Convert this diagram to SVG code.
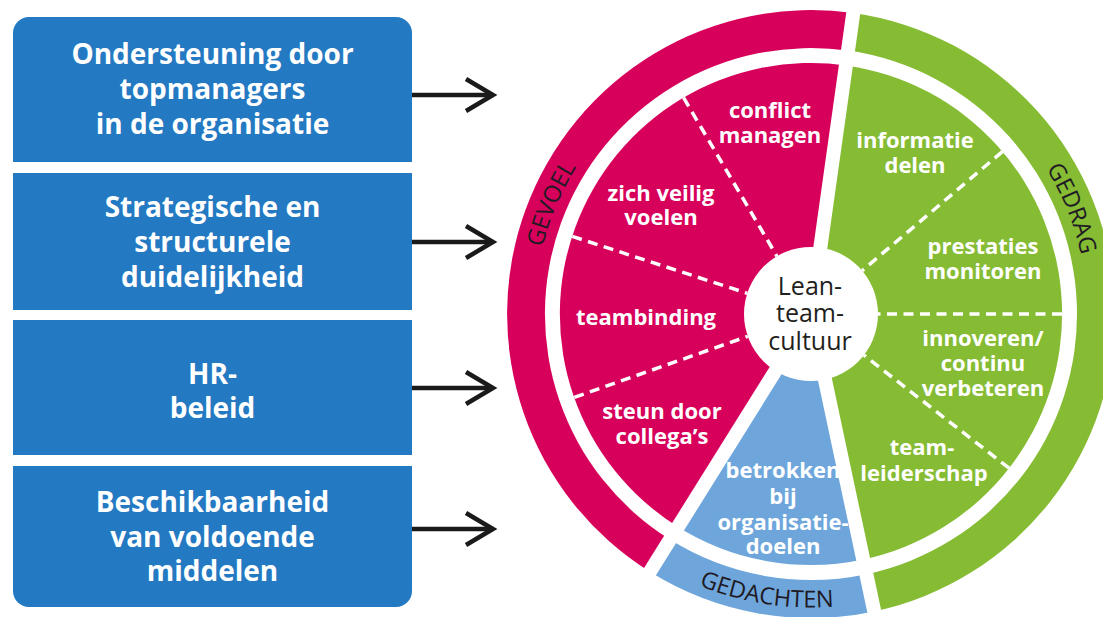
<svg xmlns="http://www.w3.org/2000/svg" width="1103" height="617" viewBox="0 0 1103 617">
  <style>
    .box { fill: #2379c2; }
    .boxtxt { font-family: "Open Sans", "Liberation Sans", sans-serif; font-weight: 700; font-size: 28px; fill: #ffffff; text-anchor: middle; }
    .lbl { font-family: "Open Sans", "Liberation Sans", sans-serif; font-weight: 700; font-size: 22px; fill: #ffffff; text-anchor: middle; }
    .ring { font-family: "Open Sans", "Liberation Sans", sans-serif; font-weight: 400; font-size: 23.5px; fill: #1f1a24; }
    .core { font-family: "Open Sans", "Liberation Sans", sans-serif; font-weight: 400; font-size: 25px; fill: #231f20; text-anchor: middle; }
    .pink { fill: #d7005b; }
    .green { fill: #86bc33; }
    .blue { fill: #6ea6dc; }
    .sep { stroke: #ffffff; stroke-width: 14; fill: none; }
    .dash { stroke: #ffffff; stroke-width: 3.5; stroke-dasharray: 10 6.5; fill: none; }
    .conn { stroke: #1a1a1a; stroke-width: 4.5; fill: none; }
  </style>
  <defs>
    <marker id="chev" markerUnits="userSpaceOnUse" markerWidth="40" markerHeight="40" refX="0" refY="0" orient="auto" overflow="visible">
      <path d="M -27 -16 L 0 0 L -27 16" fill="none" stroke="#1a1a1a" stroke-width="4.5" stroke-linejoin="miter"/>
    </marker>
    <path id="pGevoel" d="M 555.1,417.4 A 274 274 0 0 1 707.6,58.1"/>
    <path id="pGedrag" d="M 918.8,59.9 A 275 275 0 0 1 1065.1,421.8"/>
    <path id="pGedachten" d="M 573.2,486.8 A 295 295 0 0 0 983.8,551.8"/>
  </defs>

  <rect width="1103" height="617" fill="#ffffff"/>

  <g id="box-topmanagers">
    <path class="box" d="M13,162 V33 A16,16 0 0 1 29,17 H396 A16,16 0 0 1 412,33 V162 Z"/>
    <text class="boxtxt" x="212.5" y="64">Ondersteuning door</text>
    <text class="boxtxt" x="212.5" y="99">topmanagers</text>
    <text class="boxtxt" x="212.5" y="134">in de organisatie</text>
  </g>
  <g id="box-strategisch">
    <rect class="box" x="13" y="173" width="399" height="137"/>
    <text class="boxtxt" x="212.5" y="217">Strategische en</text>
    <text class="boxtxt" x="212.5" y="252">structurele</text>
    <text class="boxtxt" x="212.5" y="287">duidelijkheid</text>
  </g>
  <g id="box-hr">
    <rect class="box" x="13" y="320" width="399" height="135"/>
    <text class="boxtxt" x="212.5" y="384">HR-</text>
    <text class="boxtxt" x="212.5" y="418">beleid</text>
  </g>
  <g id="box-middelen">
    <path class="box" d="M13,466 H412 V591 A16,16 0 0 1 396,607 H29 A16,16 0 0 1 13,591 Z"/>
    <text class="boxtxt" x="212.5" y="512">Beschikbaarheid</text>
    <text class="boxtxt" x="212.5" y="547">van voldoende</text>
    <text class="boxtxt" x="212.5" y="581">middelen</text>
  </g>

  <g id="connectors">
    <path class="conn" d="M412,95 H493" marker-end="url(#chev)"/>
    <path class="conn" d="M412,242 H493" marker-end="url(#chev)"/>
    <path class="conn" d="M412,388 H493" marker-end="url(#chev)"/>
    <path class="conn" d="M412,529 H493" marker-end="url(#chev)"/>
  </g>

  <g id="wheel">
    <g id="ring-gevoel">
      <path class="pink" d="M 649.9,571.8 A 304 304 0 0 1 853.3,13.0 L 848.0,50.6 A 266 266 0 0 0 670.0,539.6 Z"/>
      <text class="ring"><textPath href="#pGevoel" startOffset="50%" text-anchor="middle">GEVOEL</textPath></text>
    </g>
    <g id="ring-gedrag">
      <path class="green" d="M 853.3,13.0 A 304 304 0 0 1 874.2,611.4 L 866.3,574.2 A 266 266 0 0 0 848.0,50.6 Z"/>
      <text class="ring"><textPath href="#pGedrag" startOffset="50%" text-anchor="middle">GEDRAG</textPath></text>
    </g>
    <g id="ring-gedachten">
      <path class="blue" d="M 874.2,611.4 A 304 304 0 0 1 649.9,571.8 L 670.0,539.6 A 266 266 0 0 0 866.3,574.2 Z"/>
      <text class="ring"><textPath href="#pGedachten" startOffset="50%" text-anchor="middle">GEDACHTEN</textPath></text>
    </g>

    <g id="sector-gevoel">
      <path class="pink" d="M 811,314 L 678.0,526.9 A 251 251 0 0 1 845.9,65.4 Z"/>
    </g>
    <g id="sector-gedrag">
      <path class="green" d="M 811,314 L 845.9,65.4 A 251 251 0 0 1 863.2,559.5 Z"/>
    </g>
    <g id="sector-gedachten">
      <path class="blue" d="M 811,314 L 863.2,559.5 A 251 251 0 0 1 678.0,526.9 Z"/>
    </g>

    <g id="separators">
      <path class="sep" d="M 811,314 L 854.1,7.0"/>
      <path class="sep" d="M 811,314 L 875.5,617.2"/>
      <path class="sep" d="M 811,314 L 646.7,576.9"/>
      <path class="dash" d="M 683.6,97.7 L 777.0,256.3"/>
      <path class="dash" d="M 572.3,236.4 L 747.3,293.3"/>
      <path class="dash" d="M 574.3,397.4 L 747.8,336.3"/>
      <path class="dash" d="M 1002.4,151.6 L 862.1,270.7"/>
      <path class="dash" d="M 1062,314 L 878,314"/>
      <path class="dash" d="M 1009.1,468.2 L 863.9,355.2"/>
    </g>

    <g id="labels-gevoel">
      <text class="lbl" x="770" y="118">conflict</text>
      <text class="lbl" x="770" y="143">managen</text>
      <text class="lbl" x="661" y="201">zich veilig</text>
      <text class="lbl" x="661" y="225">voelen</text>
      <text class="lbl" x="646" y="325">teambinding</text>
      <text class="lbl" x="662" y="419">steun door</text>
      <text class="lbl" x="662" y="444">collega’s</text>
    </g>
    <g id="labels-gedrag">
      <text class="lbl" x="915" y="148">informatie</text>
      <text class="lbl" x="915" y="173">delen</text>
      <text class="lbl" x="983" y="254">prestaties</text>
      <text class="lbl" x="983" y="279">monitoren</text>
      <text class="lbl" x="983" y="346">innoveren/</text>
      <text class="lbl" x="983" y="371">continu</text>
      <text class="lbl" x="983" y="396">verbeteren</text>
      <text class="lbl" x="922" y="455">team-</text>
      <text class="lbl" x="924" y="481">leiderschap</text>
    </g>
    <g id="labels-gedachten">
      <text class="lbl" x="783" y="478">betrokken</text>
      <text class="lbl" x="783" y="504">bij</text>
      <text class="lbl" x="783" y="530">organisatie-</text>
      <text class="lbl" x="783" y="554">doelen</text>
    </g>

    <g id="core">
      <circle cx="811" cy="314" r="67" fill="#ffffff"/>
      <text class="core" x="810" y="295">Lean-</text>
      <text class="core" x="810" y="322">team-</text>
      <text class="core" x="810" y="350">cultuur</text>
    </g>
  </g>
</svg>
